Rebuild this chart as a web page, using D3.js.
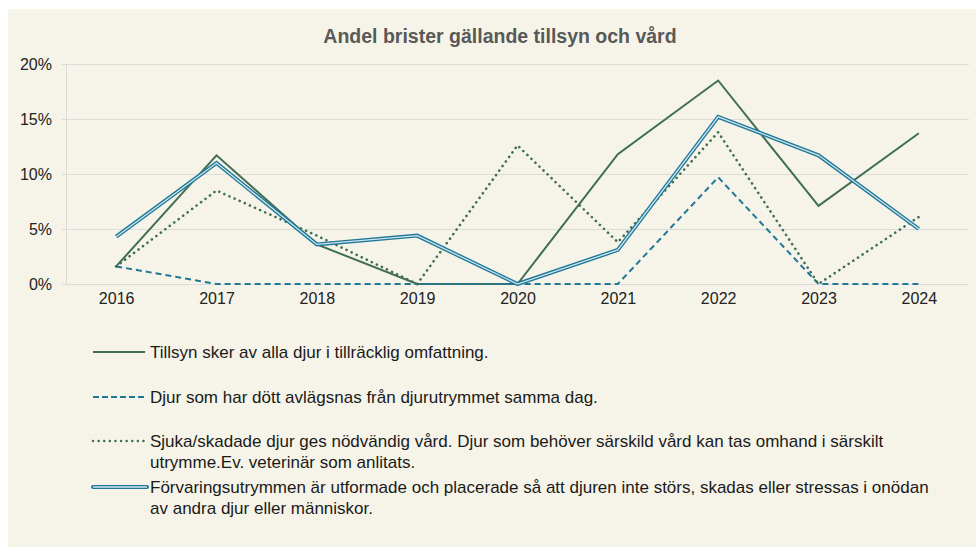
<!DOCTYPE html>
<html>
<head>
<meta charset="utf-8">
<script src="https://cdn.jsdelivr.net/npm/d3@7"></script>
<style>
body { margin: 0; background: #fff; }
svg { display: block; font-family: "Liberation Sans", Arial, sans-serif; }
</style>
</head>
<body>
<svg id="chart" width="976" height="547"></svg>
<script>
var years = ["2016", "2017", "2018", "2019", "2020", "2021", "2022", "2023", "2024"];
var tillsyn = [1.6, 11.7, 3.6, 0, 0, 11.8, 18.5, 7.1, 13.7];
var djurDott = [1.6, 0, 0, 0, 0, 0, 9.7, 0, 0];
var sjuka = [1.6, 8.5, 4.4, 0, 12.6, 3.8, 13.8, 0, 6.1];
var forvaring = [4.3, 11.0, 3.6, 4.4, 0, 3.1, 15.2, 11.7, 5.0];
var yTicks = [0, 5, 10, 15, 20];

var title = "Andel brister gällande tillsyn och vård";
var names = [
  ["Tillsyn sker av alla djur i tillräcklig omfattning."],
  ["Djur som har dött avlägsnas från djurutrymmet samma dag."],
  ["Sjuka/skadade djur ges nödvändig vård. Djur som behöver särskild vård kan tas omhand i särskilt", "utrymme.Ev. veterinär som anlitats."],
  ["Förvaringsutrymmen är utformade och placerade så att djuren inte störs, skadas eller stressas i onödan", "av andra djur eller människor."]
];

var green = "#3f6e55", blue = "#1f7898", bg = "#f6f4e8";
var svg = d3.select("#chart");

svg.append("rect").attr("x", 8).attr("y", 9).attr("width", 968).attr("height", 538).attr("fill", bg);

svg.append("text")
  .attr("x", 500).attr("y", 43)
  .attr("text-anchor", "middle")
  .attr("font-size", 19.5).attr("font-weight", "bold")
  .attr("fill", "#595959")
  .text(title);

var x = d3.scalePoint().domain(years).range([66, 969]).padding(0.5);
var y = d3.scaleLinear().domain([0, 20]).range([284, 64]);

// grid
var yAxis = d3.axisLeft(y).tickValues(yTicks).tickSize(-903).tickPadding(14).tickFormat(function(d) { return d + "%"; });
var gy = svg.append("g").attr("transform", "translate(66,0)").call(yAxis);
gy.select(".domain").attr("stroke", "#d9d9d9");
gy.selectAll(".tick line").attr("stroke", "#dcdcdc").attr("x1", -4);
gy.selectAll(".tick text").attr("font-size", 16).attr("fill", "#222").attr("font-family", "Liberation Sans, Arial, sans-serif");

var xAxis = d3.axisBottom(x).tickSize(0).tickPadding(9);
var gx = svg.append("g").attr("transform", "translate(0,284)").call(xAxis);
gx.select(".domain").remove();
gx.selectAll(".tick text").attr("font-size", 16).attr("fill", "#222").attr("font-family", "Liberation Sans, Arial, sans-serif");

var line = d3.line().x(function(d, i) { return x(years[i]); }).y(function(d) { return y(d); });

// series drawn in legend order, double line on top
svg.append("path").datum(tillsyn).attr("d", line).attr("fill", "none").attr("stroke", green).attr("stroke-width", 2);
svg.append("path").datum(djurDott).attr("d", line).attr("fill", "none").attr("stroke", blue).attr("stroke-width", 2).attr("stroke-dasharray", "6,4");
svg.append("path").datum(sjuka).attr("d", line).attr("fill", "none").attr("stroke", green).attr("stroke-width", 2.6).attr("stroke-dasharray", "0.1,5.5").attr("stroke-linecap", "round");
svg.append("path").datum(forvaring).attr("d", line).attr("fill", "none").attr("stroke", blue).attr("stroke-width", 4);
svg.append("path").datum(forvaring).attr("d", line).attr("fill", "none").attr("stroke", "#cfe6ee").attr("stroke-width", 1.3);

// legend
var legY = [352, 397, 441, 487];
var lg = svg.append("g");
names.forEach(function(lines, i) {
  var yy = legY[i];
  if (i == 0) lg.append("line").attr("x1", 93).attr("x2", 145).attr("y1", yy).attr("y2", yy).attr("stroke", green).attr("stroke-width", 2);
  if (i == 1) lg.append("line").attr("x1", 93).attr("x2", 145).attr("y1", yy).attr("y2", yy).attr("stroke", blue).attr("stroke-width", 2).attr("stroke-dasharray", "6,3");
  if (i == 2) lg.append("line").attr("x1", 93).attr("x2", 145).attr("y1", yy).attr("y2", yy).attr("stroke", green).attr("stroke-width", 2.4).attr("stroke-dasharray", "0.1,5.5").attr("stroke-linecap", "round");
  if (i == 3) {
    lg.append("line").attr("x1", 93).attr("x2", 147).attr("y1", yy).attr("y2", yy).attr("stroke", blue).attr("stroke-width", 4).attr("stroke-linecap", "round");
    lg.append("line").attr("x1", 93).attr("x2", 147).attr("y1", yy).attr("y2", yy).attr("stroke", "#cfe6ee").attr("stroke-width", 1.3);
  }
  var t = lg.append("text").attr("x", 150).attr("y", yy + 6).attr("font-size", 17).attr("fill", "#1a1a1a");
  lines.forEach(function(s, k) {
    t.append("tspan").attr("x", 150).attr("dy", k == 0 ? 0 : 21).text(s);
  });
});
</script>
</body>
</html>
